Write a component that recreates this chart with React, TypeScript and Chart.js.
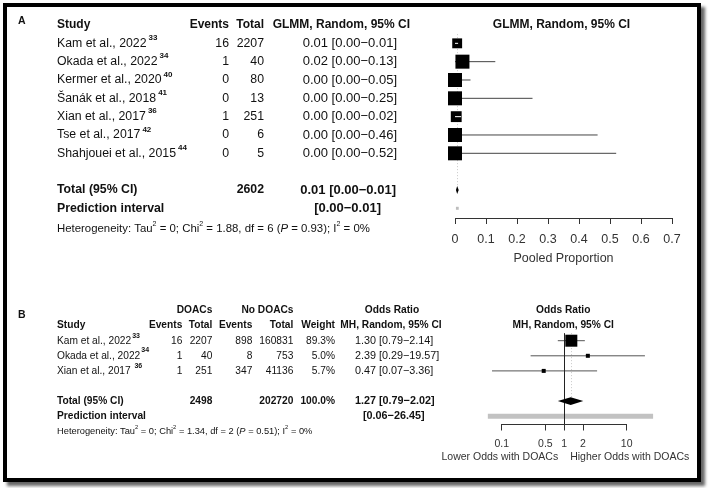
import React, { useEffect, useRef } from "react";
import { Chart, registerables } from "chart.js";
Chart.register(...registerables);

const FONT = '"Liberation Sans", Arial, Helvetica, sans-serif';

// ---------- Panel A : pooled proportion ----------
const studiesA = [
  "Kam et al., 2022",
  "Okada et al., 2022",
  "Kermer et al., 2020",
  "Šanák et al., 2018",
  "Xian et al., 2017",
  "Tse et al., 2017",
  "Shahjouei et al., 2015",
];
const refsA = ["33", "34", "40", "41", "36", "42", "44"];
const eventsA = [16, 1, 0, 0, 1, 0, 0];
const totalsA = [2207, 40, 80, 13, 251, 6, 5];
const propA = [0.007, 0.024, 0.0, 0.0, 0.004, 0.0, 0.0];
const lowerA = [0.0, 0.0, 0.0, 0.0, 0.0, 0.0, 0.0];
const upperA = [0.01, 0.13, 0.05, 0.25, 0.02, 0.46, 0.52];
const weightA = [50, 100, 100, 100, 60, 100, 100];
const pooledA = [0.007, 0.003, 0.012]; // estimate, lower, upper
const predA = [0.003, 0.012];
const hetA = { tau2: "0", chi2: "1.88", df: "6", p: "0.93", i2: "0%" };
const ticksA = [0, 0.1, 0.2, 0.3, 0.4, 0.5, 0.6, 0.7];
const tickLabelsA = ["0", "0.1", "0.2", "0.3", "0.4", "0.5", "0.6", "0.7"];

// ---------- Panel B : odds ratio ----------
const studiesB = ["Kam et al., 2022", "Okada et al., 2022", "Xian et al., 2017 "];
const refsB = ["33", "34", "36"];
const eventsDoac = [16, 1, 1];
const totalDoac = [2207, 40, 251];
const eventsNo = [898, 8, 347];
const totalNo = [160831, 753, 41136];
const weightB = [89.3, 5.0, 5.7];
const orB = [1.3, 2.39, 0.47];
const lowerB = [0.79, 0.29, 0.07];
const upperB = [2.14, 19.57, 3.36];
const pooledB = [1.27, 0.79, 2.02];
const predB = [0.06, 26.45];
const hetB = { tau2: "0", chi2: "1.34", df: "2", p: "0.51", i2: "0%" };
const ticksB = [0.1, 0.5, 1, 2, 10];
const tickLabelsB = ["0.1", "0.5", "1", "2", "10"];

// ---------- layout ----------
const A_TOP = 25, A_STEP = 18.33, A_AXIS = 218;
const A_YMAX = -1 + (A_AXIS - A_TOP) / A_STEP;
const B_TOP = 310.5, B_STEP = 15.1, B_AXIS = 424;
const B_YMAX = -2 + (B_AXIS - B_TOP) / B_STEP;
const W = 709, H = 488;

const TXT = "#111";
const AXC = "#333";

function font(size: number, bold = false, italic = false) {
  return `${italic ? "italic " : ""}${bold ? "bold " : ""}${size}px ${FONT}`;
}
function T(ctx: CanvasRenderingContext2D, s: string, x: number, y: number, size: number, bold = false, align: CanvasTextAlign = "left", color = TXT) {
  ctx.font = font(size, bold);
  ctx.textAlign = align;
  ctx.textBaseline = "middle";
  ctx.fillStyle = color;
  ctx.fillText(s, x, y);
  return ctx.measureText(s).width;
}
type Seg = { t: string; sup?: boolean; it?: boolean };
function rich(ctx: CanvasRenderingContext2D, segs: Seg[], x: number, y: number, size: number) {
  let cx = x;
  ctx.textAlign = "left";
  ctx.textBaseline = "middle";
  ctx.fillStyle = TXT;
  for (const s of segs) {
    const sz = s.sup ? size * 0.62 : size;
    ctx.font = font(sz, false, !!s.it);
    ctx.fillText(s.t, cx, s.sup ? y - size * 0.38 : y);
    cx += ctx.measureText(s.t).width;
  }
}
function hetSegs(h: typeof hetA): Seg[] {
  return [
    { t: "Heterogeneity: Tau" }, { t: "2", sup: true },
    { t: ` = ${h.tau2}; Chi` }, { t: "2", sup: true },
    { t: ` = ${h.chi2}, df = ${h.df} (` }, { t: "P", it: true },
    { t: ` = ${h.p}); I` }, { t: "2", sup: true },
    { t: ` = ${h.i2}` },
  ];
}
const ci = (e: number, l: number, u: number) => `${e.toFixed(2)} [${l.toFixed(2)}\u2212${u.toFixed(2)}]`;
const sum = (a: number[]) => a.reduce((s, v) => s + v, 0);

function diamond(chart: any, est: number, lo: number, hi: number, row: number, half: number) {
  const { ctx } = chart;
  const xs = chart.scales.x, ys = chart.scales.y;
  const y = ys.getPixelForValue(row);
  ctx.beginPath();
  ctx.moveTo(xs.getPixelForValue(lo), y);
  ctx.lineTo(xs.getPixelForValue(est), y - half);
  ctx.lineTo(xs.getPixelForValue(hi), y);
  ctx.lineTo(xs.getPixelForValue(est), y + half);
  ctx.closePath();
  ctx.fillStyle = "#000";
  ctx.fill();
}
function vline(chart: any, x: number, y0: number, y1: number, color: string, dash: number[]) {
  const { ctx } = chart;
  const px = Math.round(chart.scales.x.getPixelForValue(x)) + 0.5;
  ctx.save();
  ctx.strokeStyle = color;
  ctx.lineWidth = 1;
  ctx.setLineDash(dash);
  ctx.beginPath();
  ctx.moveTo(px, y0);
  ctx.lineTo(px, y1);
  ctx.stroke();
  ctx.restore();
}

const sqA = (w: number) => 14 * Math.sqrt(w / 100);
const sqB = (w: number) => Math.max(4, 12 * Math.sqrt(w / 89.3));

function ciDatasets(lo: number[], hi: number[], color: string) {
  return lo.map((l, i) => ({
    data: [{ x: l, y: i }, { x: hi[i], y: i }],
    showLine: true,
    borderColor: color,
    borderWidth: 1,
    pointRadius: 0,
    clip: false,
    order: 3,
  }));
}
function whiteInside(est: number[], lo: number[], hi: number[], side: (i: number) => number) {
  return lo.map((l, i) => ({
    data: [{ x: l, y: i }, { x: hi[i], y: i }],
    showLine: true,
    borderWidth: 1,
    pointRadius: 0,
    clip: false,
    order: 1,
    borderColor: (c: any) => {
      const xs = c.chart.scales.x;
      if (!xs) return "rgba(0,0,0,0)";
      const cx = xs.getPixelForValue(est[i]);
      const h = side(i) / 2;
      const a = xs.getPixelForValue(l), b = xs.getPixelForValue(hi[i]);
      return a >= cx - h - 0.5 && b <= cx + h + 0.5 ? "#fff" : "rgba(0,0,0,0)";
    },
  }));
}

function base(padding: any, x: any, y: any, plugin: any, datasets: any[]) {
  return {
    type: "scatter" as const,
    data: { datasets },
    options: {
      responsive: false,
      animation: false,
      devicePixelRatio: 1,
      events: [],
      layout: { padding },
      plugins: { legend: { display: false }, tooltip: { enabled: false } },
      scales: { x, y },
    },
    plugins: [plugin],
  };
}

const pluginA = {
  id: "panelA",
  beforeDatasetsDraw(chart: any) {
    const ys = chart.scales.y;
    vline(chart, pooledA[0], ys.getPixelForValue(-0.5), ys.getPixelForValue(7.75), "#c8c8c8", [1, 2]);
  },
  afterDatasetsDraw(chart: any) {
    diamond(chart, pooledA[0], pooledA[1], pooledA[2], 8, 4);
  },
  afterDraw(chart: any) {
    const { ctx } = chart;
    const xs = chart.scales.x, ys = chart.scales.y;
    const Y = (r: number) => ys.getPixelForValue(r);
    ctx.save();
    T(ctx, "A", 18, 21, 10.5, true);
    const hy = Y(-1);
    T(ctx, "Study", 57, hy, 12, true);
    T(ctx, "Events", 229, hy, 12, true, "right");
    T(ctx, "Total", 264, hy, 12, true, "right");
    T(ctx, "GLMM, Random, 95% CI", 410, hy, 12, true, "right");
    T(ctx, "GLMM, Random, 95% CI", (xs.left + xs.right) / 2 - 2, hy, 12, true, "center");
    studiesA.forEach((s, i) => {
      const y = Y(i);
      const w = T(ctx, s, 57, y, 12.3);
      T(ctx, refsA[i], 57 + w + 2, y - 5.5, 8, true);
      T(ctx, String(eventsA[i]), 229, y, 12.3, false, "right");
      T(ctx, String(totalsA[i]), 264, y, 12.3, false, "right");
      T(ctx, ci(propA[i], lowerA[i], upperA[i]), 397, y, 13, false, "right");
    });
    T(ctx, "Total (95% CI)", 57, Y(8), 12.3, true);
    T(ctx, String(sum(totalsA)), 264, Y(8), 12.3, true, "right");
    T(ctx, ci(pooledA[0], pooledA[1], pooledA[2]), 396, Y(8), 13, true, "right");
    T(ctx, "Prediction interval", 57, Y(9), 12.3, true);
    T(ctx, `[${predA[0].toFixed(2)}\u2212${predA[1].toFixed(2)}]`, 381, Y(9), 13, true, "right");
    rich(ctx, hetSegs(hetA), 57, Y(10.1), 11.4);
    ctx.restore();
  },
};

const pluginB = {
  id: "panelB",
  beforeDatasetsDraw(chart: any) {
    const ys = chart.scales.y;
    vline(chart, pooledB[0], ys.getPixelForValue(-0.5), ys.getPixelForValue(3.75), "#c8c8c8", [1, 2]);
  },
  afterDatasetsDraw(chart: any) {
    const ys = chart.scales.y;
    vline(chart, 1, ys.getPixelForValue(-0.5), chart.chartArea.bottom, "#222", []);
    diamond(chart, pooledB[0], pooledB[1], pooledB[2], 4, 3.8);
  },
  afterDraw(chart: any) {
    const { ctx } = chart;
    const xs = chart.scales.x, ys = chart.scales.y;
    const Y = (r: number) => ys.getPixelForValue(r);
    const fs = 10.2;
    const fc = 10.8;
    ctx.save();
    T(ctx, "B", 18, 315, 10.5, true);
    const h2 = Y(-2), h1 = Y(-1);
    const pc = (xs.left + xs.right) / 2 - 1;
    T(ctx, "DOACs", 194.5, h2, fs, true, "center");
    T(ctx, "No DOACs", 267.5, h2, fs, true, "center");
    T(ctx, "Odds Ratio", 392, h2, fs, true, "center");
    T(ctx, "Odds Ratio", pc, h2, fs, true, "center");
    T(ctx, "Study", 57, h1, fs, true);
    T(ctx, "Events", 182.3, h1, fs, true, "right");
    T(ctx, "Total", 212.3, h1, fs, true, "right");
    T(ctx, "Events", 252.3, h1, fs, true, "right");
    T(ctx, "Total", 293.3, h1, fs, true, "right");
    T(ctx, "Weight", 335, h1, fs, true, "right");
    T(ctx, "MH, Random, 95% CI", 391, h1, fs, true, "center");
    T(ctx, "MH, Random, 95% CI", pc, h1, fs, true, "center");
    studiesB.forEach((s, i) => {
      const y = Y(i);
      const w = T(ctx, s, 57, y, fs);
      T(ctx, refsB[i], 57 + w + 1, y - (i === 1 ? 6 : 4.8), 7, true);
      T(ctx, String(eventsDoac[i]), 182.3, y, fs, false, "right");
      T(ctx, String(totalDoac[i]), 212.3, y, fs, false, "right");
      T(ctx, String(eventsNo[i]), 252.3, y, fs, false, "right");
      T(ctx, String(totalNo[i]), 293.3, y, fs, false, "right");
      T(ctx, `${weightB[i].toFixed(1)}%`, 335, y, fs, false, "right");
      T(ctx, ci(orB[i], lowerB[i], upperB[i]), 355, y, fc);
    });
    T(ctx, "Total (95% CI)", 57, Y(4), fs, true);
    T(ctx, String(sum(totalDoac)), 212.3, Y(4), fs, true, "right");
    T(ctx, String(sum(totalNo)), 293.3, Y(4), fs, true, "right");
    T(ctx, `${sum(weightB).toFixed(1)}%`, 335, Y(4), fs, true, "right");
    T(ctx, ci(pooledB[0], pooledB[1], pooledB[2]), 355, Y(4), fc, true);
    T(ctx, "Prediction interval", 57, Y(5), fs, true);
    T(ctx, `[${predB[0].toFixed(2)}\u2212${predB[1].toFixed(2)}]`, 363, Y(5), fc, true);
    rich(ctx, hetSegs(hetB), 57, Y(6), 9.3);
    const one = xs.getPixelForValue(1);
    T(ctx, "Lower Odds with DOACs", one - 6, 457.3, 10.5, false, "right", AXC);
    T(ctx, "Higher Odds with DOACs", one + 6, 457.3, 10.5, false, "left", AXC);
    ctx.restore();
  },
};

function configA() {
  const x = {
    type: "linear",
    min: 0,
    max: 0.7,
    afterBuildTicks: (s: any) => { s.ticks = ticksA.map((v) => ({ value: v })); },
    afterFit: (s: any) => { s.height = 48; },
    border: { display: true, color: AXC, width: 1 },
    grid: { display: true, drawOnChartArea: false, drawTicks: true, tickLength: 6, color: AXC, lineWidth: 1 },
    ticks: { autoSkip: false, maxRotation: 0, padding: 8.5, color: AXC, font: { family: FONT, size: 12.5 }, callback: (_v: any, i: number) => tickLabelsA[i] },
    title: { display: true, text: "Pooled Proportion", color: AXC, font: { family: FONT, size: 12.5 }, padding: 0 },
  };
  const y = { display: false, min: -1, max: A_YMAX, reverse: true };
  const datasets = [
    ...ciDatasets(lowerA, upperA, "#444"),
    {
      data: propA.map((v, i) => ({ x: v, y: i })),
      pointStyle: "rect",
      pointRadius: weightA.map((w) => sqA(w) / Math.SQRT2),
      pointBackgroundColor: "#000",
      pointBorderWidth: 0,
      showLine: false,
      clip: false,
      order: 2,
    },
    ...whiteInside(propA, lowerA, upperA, (i) => sqA(weightA[i])),
    {
      data: [{ x: predA[0], y: 9 }, { x: predA[1], y: 9 }],
      showLine: true,
      borderColor: "#bdbdbd",
      borderWidth: 3,
      pointRadius: 0,
      clip: false,
      order: 0,
    },
  ];
  return base({ left: 455, right: W - 672, top: A_TOP, bottom: H - A_AXIS - 48 }, x, y, pluginA, datasets);
}

function configB() {
  const x = {
    type: "logarithmic",
    min: 0.1,
    max: 10,
    afterBuildTicks: (s: any) => { s.ticks = ticksB.map((v) => ({ value: v })); },
    afterFit: (s: any) => { s.height = 40; },
    border: { display: true, color: AXC, width: 1 },
    grid: { display: true, drawOnChartArea: false, drawTicks: true, tickLength: 6.5, color: AXC, lineWidth: 1 },
    ticks: { autoSkip: false, maxRotation: 0, padding: 7, color: AXC, font: { family: FONT, size: 10.5 }, callback: (_v: any, i: number) => tickLabelsB[i] },
    title: { display: false },
  };
  const y = { display: false, min: -2, max: B_YMAX, reverse: true };
  const datasets = [
    ...ciDatasets(lowerB, upperB, "#555"),
    {
      data: orB.map((v, i) => ({ x: v, y: i })),
      pointStyle: "rect",
      pointRadius: weightB.map((w) => sqB(w) / Math.SQRT2),
      pointBackgroundColor: "#000",
      pointBorderWidth: 0,
      showLine: false,
      clip: false,
      order: 2,
    },
    ...whiteInside(orB, lowerB, upperB, (i) => sqB(weightB[i])),
    {
      data: [{ x: predB[0], y: 5 }, { x: predB[1], y: 5 }],
      showLine: true,
      borderColor: "#c2c2c2",
      borderWidth: 5,
      pointRadius: 0,
      clip: false,
      order: 4,
    },
  ];
  return base({ left: 501.7, right: W - 626.7, top: B_TOP, bottom: H - B_AXIS - 40 }, x, y, pluginB, datasets);
}

export default function App() {
  const refA = useRef<HTMLCanvasElement>(null);
  const refB = useRef<HTMLCanvasElement>(null);
  useEffect(() => {
    const a = new Chart(refA.current as HTMLCanvasElement, configA() as any);
    const b = new Chart(refB.current as HTMLCanvasElement, configB() as any);
    return () => {
      a.destroy();
      b.destroy();
    };
  }, []);
  const cs: React.CSSProperties = { position: "absolute", left: 0, top: 0, width: W, height: H };
  return (
    <div style={{ position: "absolute", left: 0, top: 0, width: W, height: H, background: "#fff", overflow: "hidden" }}>
      <div
        style={{
          position: "absolute",
          left: 3,
          top: 3,
          width: 698,
          height: 479,
          boxSizing: "border-box",
          border: "4px solid #000",
          boxShadow: "4px 4px 3px rgba(0,0,0,0.6)",
          background: "#fff",
        }}
      />
      <canvas ref={refA} width={W} height={H} style={cs} />
      <canvas ref={refB} width={W} height={H} style={cs} />
    </div>
  );
}
